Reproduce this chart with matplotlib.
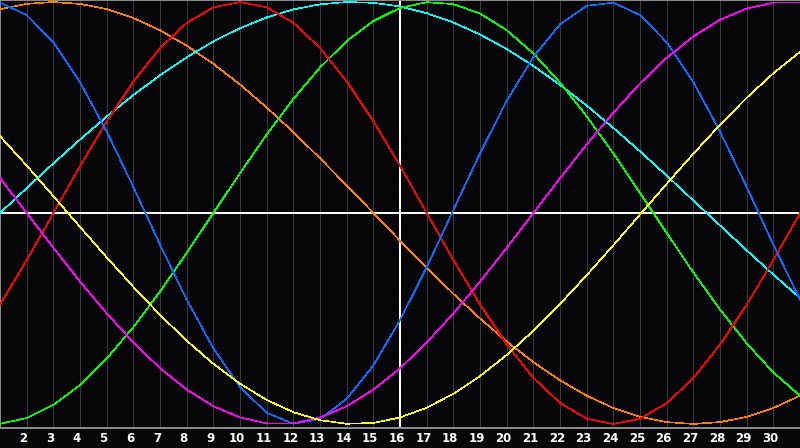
import matplotlib
matplotlib.use("Agg")
import matplotlib.pyplot as plt
import matplotlib.transforms as mtransforms

# days of the month shown on the chart
days = list(range(1, 32))
today = 16

# cycle values, one per day (-1 .. 1)
physical = [0.997, 0.938, 0.809, 0.620, 0.386, 0.123, -0.150, -0.411, -0.641, -0.825,
            -0.947, -0.999, -0.976, -0.881, -0.722, -0.508, -0.257, 0.014, 0.283, 0.531,
            0.740, 0.894, 0.982, 0.997, 0.938, 0.809, 0.620, 0.386, 0.123, -0.150, -0.411]
emotional = [-0.434, -0.223, 0.0, 0.223, 0.434, 0.623, 0.782, 0.901, 0.975, 1.0,
             0.975, 0.901, 0.782, 0.623, 0.434, 0.223, 0.0, -0.223, -0.434, -0.623,
             -0.782, -0.901, -0.975, -1.0, -0.975, -0.901, -0.782, -0.623, -0.434, -0.223, 0.0]
intellectual = [-0.999, -0.972, -0.910, -0.815, -0.690, -0.541, -0.372, -0.189, 0.0, 0.189,
                0.372, 0.541, 0.690, 0.815, 0.910, 0.972, 0.999, 0.990, 0.945, 0.866,
                0.756, 0.618, 0.458, 0.282, 0.095, -0.095, -0.282, -0.458, -0.618, -0.756, -0.866]
intuitive = [0.165, 0.0, -0.165, -0.325, -0.476, -0.614, -0.736, -0.837, -0.916, -0.969,
             -0.997, -0.997, -0.969, -0.916, -0.837, -0.736, -0.614, -0.476, -0.325, -0.165,
             0.0, 0.165, 0.325, 0.476, 0.614, 0.736, 0.837, 0.916, 0.969, 0.997, 0.997]
aesthetic = [0.364, 0.225, 0.080, -0.066, -0.210, -0.350, -0.483, -0.605, -0.715, -0.809,
             -0.886, -0.944, -0.982, -0.999, -0.995, -0.969, -0.923, -0.857, -0.773, -0.673,
             -0.558, -0.431, -0.295, -0.153, -0.007, 0.138, 0.281, 0.418, 0.546, 0.662, 0.764]
awareness = [0.966, 0.991, 1.0, 0.991, 0.966, 0.924, 0.866, 0.793, 0.707, 0.609,
             0.5, 0.383, 0.259, 0.131, 0.0, -0.131, -0.259, -0.383, -0.5, -0.609,
             -0.707, -0.793, -0.866, -0.924, -0.966, -0.991, -1.0, -0.991, -0.966, -0.924, -0.866]
spiritual = [0.0, 0.118, 0.235, 0.348, 0.457, 0.559, 0.653, 0.738, 0.813, 0.876,
             0.927, 0.965, 0.989, 1.0, 0.996, 0.979, 0.947, 0.903, 0.846, 0.777,
             0.697, 0.607, 0.509, 0.403, 0.292, 0.177, 0.059, -0.059, -0.177, -0.292, -0.403]

series = [
    (awareness, '#ff8000'),
    (spiritual, '#00ffff'),
    (intellectual, '#00ff00'),
    (emotional, '#ff0000'),
    (physical, '#0a6cff'),
    (intuitive, '#ff00ff'),
    (aesthetic, '#ffff00'),
]

bg = '#060508'
px = 0.72  # one pixel in points at 100 dpi
fig = plt.figure(figsize=(8, 4.48), dpi=100, facecolor=bg)
ax = fig.add_axes([0, 20 / 448, 1, 428 / 448])
ax.set_facecolor(bg)

# day grid
for d in days:
    ax.axvline(d, color='#3a3a3a', lw=px, zorder=1, antialiased=False)
ax.axhline(0, color='white', lw=2 * px, zorder=2, antialiased=False)
ax.axvline(today, color='white', lw=2 * px, zorder=2, antialiased=False)

for vals, col in series:
    ax.plot(days, vals, color=col, lw=0.45, zorder=3, antialiased=False)

ax.set_xlim(1, 31)
ax.set_ylim(-1.019, 1.0095)
ax.set_yticks([])
ax.set_xticks(days[1:-1])
ax.set_xticklabels([str(d) for d in days[1:-1]], color='white', fontsize=8.5, fontweight='bold')
ax.tick_params(axis='x', length=0, pad=3)
offset = mtransforms.ScaledTranslation(-3 / 100, 0, fig.dpi_scale_trans)
for lbl in ax.get_xticklabels():
    lbl.set_transform(lbl.get_transform() + offset)

for side in ['left', 'top', 'bottom']:
    ax.spines[side].set_color('#8a8a8a')
    ax.spines[side].set_linewidth(2 * px)
ax.spines['right'].set_visible(False)

fig.savefig('out.png', dpi=100, facecolor=bg)
